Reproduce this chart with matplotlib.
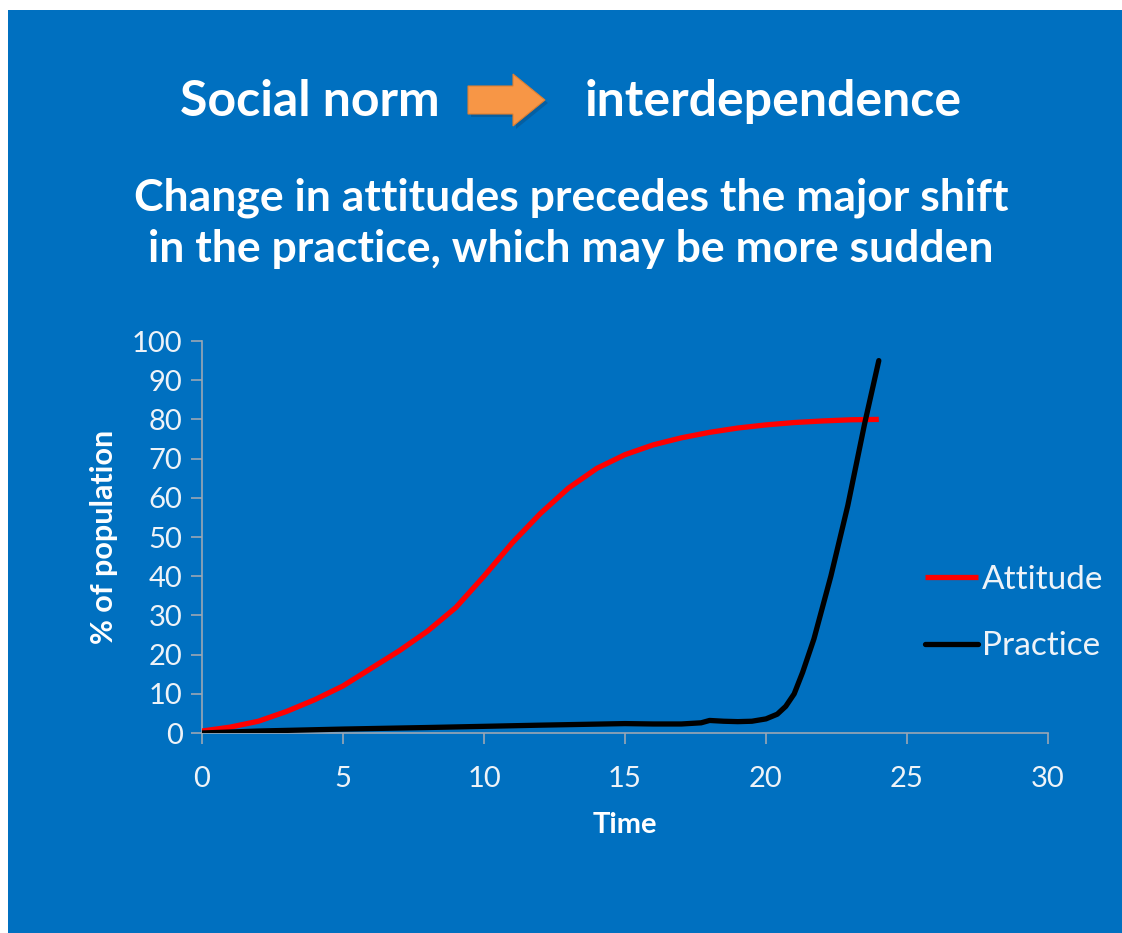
import matplotlib
matplotlib.use("Agg")
import matplotlib.pyplot as plt
from matplotlib.patches import Rectangle, Polygon

# ---- data ----
attitude_x = [0, 1, 2, 3, 4, 5, 6, 7, 8, 9, 10, 11, 12, 13, 14, 15, 16, 17, 18, 19, 20, 21, 22, 23, 24]
attitude_y = [0.5, 1.5, 3, 5.5, 8.5, 12, 16.5, 21, 26, 32, 40, 48.5, 56, 62.5, 67.5, 71, 73.5, 75.3, 76.7, 77.8, 78.6, 79.2, 79.6, 79.9, 80]

practice_x = [0, 2, 5, 8, 10, 12, 15, 16, 17, 17.7, 18, 18.5, 19, 19.5, 20, 20.4, 20.7, 21, 21.3, 21.7, 22.3, 22.9, 23.5, 24]
practice_y = [0, 0.5, 1, 1.4, 1.7, 2, 2.4, 2.3, 2.3, 2.6, 3.2, 3, 2.9, 3, 3.6, 4.8, 6.8, 10, 15.5, 24, 40, 58, 79, 95]

x_ticks = [0, 5, 10, 15, 20, 25, 30]
y_ticks = [0, 10, 20, 30, 40, 50, 60, 70, 80, 90, 100]

title_left = "Social norm"
title_right = "interdependence"
subtitle = "Change in attitudes precedes the major shift\nin the practice, which may be more sudden"
series_names = ["Attitude", "Practice"]

BLUE = "#0070C0"
FONT = ["Lato", "DejaVu Sans"]

W, H = 1122, 933
fig = plt.figure(figsize=(W / 100, H / 100), dpi=100, facecolor="white")

# blue slide background
fig.patches.append(Rectangle((8 / W, 0), 1, (H - 10) / H, transform=fig.transFigure,
                             facecolor=BLUE, edgecolor="none", zorder=-5))

# titles
fig.text(310 / W, 1 - 101 / H, title_left, color="white", fontsize=36, fontweight="bold",
         family=FONT, ha="center", va="center")
fig.text(773 / W, 1 - 101 / H, title_right, color="white", fontsize=36, fontweight="bold",
         family=FONT, ha="center", va="center")

# orange arrow
def P(x, y):
    return (x / W, 1 - y / H)
arrow_pts = [P(468, 86), P(513, 86), P(513, 74), P(545, 100), P(513, 126), P(513, 114), P(468, 114)]
shadow_pts = [(px + 3 / W, py - 3 / H) for px, py in arrow_pts]
fig.patches.append(Polygon(shadow_pts, closed=True, transform=fig.transFigure,
                           facecolor="#0a4f86", edgecolor="none", alpha=0.5, zorder=-4))
fig.patches.append(Polygon(arrow_pts, closed=True, transform=fig.transFigure,
                           facecolor="#F79646", edgecolor="#e07f30", lw=0.8, zorder=-3))

fig.text(571 / W, 1 - 223 / H, subtitle, color="white", fontsize=32, fontweight="bold",
         family=FONT, ha="center", va="center", linespacing=1.32)

# axes
ax = fig.add_axes([202 / W, 1 - 733 / H, (1048 - 202) / W, (733 - 341) / H])
ax.set_facecolor("none")
ax.set_zorder(2)
ax.plot(attitude_x, attitude_y, color="#ff0000", lw=3.8, solid_capstyle="butt",
        label=series_names[0], zorder=3)
ax.plot(practice_x, practice_y, color="black", lw=3.8, solid_capstyle="round",
        label=series_names[1], zorder=4)

ax.set_xlim(0, 30)
ax.set_ylim(0, 100)
ax.set_xticks(x_ticks)
ax.set_yticks(y_ticks)
for s in ["top", "right"]:
    ax.spines[s].set_visible(False)
for s in ["left", "bottom"]:
    ax.spines[s].set_color("#9aa7b4")
    ax.spines[s].set_linewidth(1.2)
ax.tick_params(axis="both", colors="#9aa7b4", direction="out", length=8, width=1.2,
               labelcolor="#eef3f8", labelsize=21)
ax.tick_params(axis="x", pad=16)
ax.tick_params(axis="y", pad=6)
for lab in ax.get_xticklabels() + ax.get_yticklabels():
    lab.set_family(FONT)

ax.set_xlabel("Time", color="white", fontsize=21, fontweight="bold", family=FONT, labelpad=14)
ax.set_ylabel("% of population", color="white", fontsize=22, fontweight="bold", family=FONT,
              labelpad=10)

leg = ax.legend(loc="center left", bbox_to_anchor=((925 - 202) / (1048 - 202), (733 - 613) / (733 - 341)),
                frameon=False, handlelength=1.6, handletextpad=0.12, labelspacing=1.1,
                borderaxespad=0, borderpad=0, prop={"family": FONT, "size": 24})
for t in leg.get_texts():
    t.set_color("#eef3f8")

fig.savefig("out.png", dpi=100, facecolor="white")
